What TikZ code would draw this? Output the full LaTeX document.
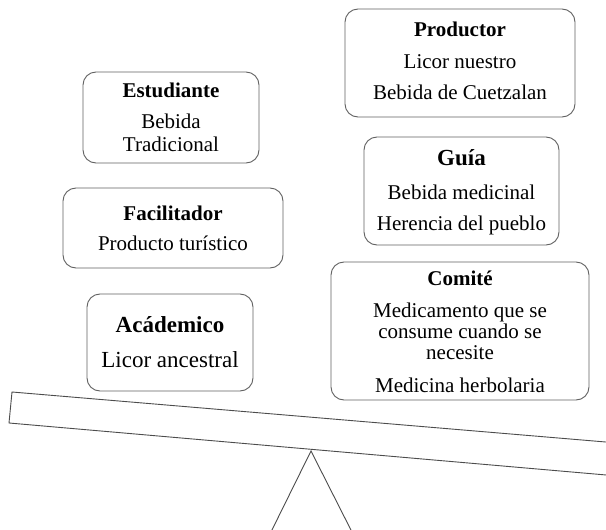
\documentclass[tikz,border=0pt]{standalone}
\usepackage{fontspec}
\setmainfont{Liberation Serif}
\begin{document}
\begin{tikzpicture}[x=1pt,y=-1pt,
  boxst/.style={draw=black!62, line width=0.9pt, rounded corners=13pt, fill=white, inner sep=0pt},
  txt/.style={anchor=base, inner sep=0pt, font=\fontsize{21}{22}\selectfont},
  txtb/.style={txt, font=\fontsize{21}{22}\selectfont\bfseries},
  bigtxt/.style={anchor=base, inner sep=0pt, font=\fontsize{23}{24}\selectfont},
  bigtxtb/.style={bigtxt, font=\fontsize{23}{24}\selectfont\bfseries},
  beamst/.style={draw=black!70, line width=0.9pt, fill=white}]
\clip (0,0) rectangle (606,530);
\fill[white] (0,0) rectangle (606,530);
% boxes
\node[boxst, minimum width=230, minimum height=108] (bprod) at (460,63) {};
\node[boxst, minimum width=195, minimum height=108] (bguia) at (461.5,191) {};
\node[boxst, minimum width=176, minimum height=91] (best) at (171,117.5) {};
\node[boxst, minimum width=220, minimum height=80] (bfac) at (173,228) {};
\node[boxst, minimum width=258, minimum height=138] (bcom) at (460,331) {};
\node[boxst, minimum width=166, minimum height=97] (baca) at (170,342.5) {};
% texts
\node[txtb] (tprod) at (460,37) {Productor};
\node[txt] (tprod1) at (460,68) {Licor nuestro};
\node[txt] (tprod2) at (460,99) {Bebida de Cuetzalan};
\node[bigtxtb] (tguia) at (461.5,165) {Guía};
\node[txt] (tguia1) at (461.5,199) {Bebida medicinal};
\node[txt] (tguia2) at (461.5,230) {Herencia del pueblo};
\node[txtb] (test) at (171,97) {Estudiante};
\node[txt] (test1) at (171,128) {Bebida};
\node[txt] (test2) at (171,151) {Tradicional};
\node[txtb] (tfac) at (173,220) {Facilitador};
\node[txt] (tfac1) at (173,250) {Producto turístico};
\node[txtb] (tcom) at (460,285) {Comité};
\node[txt] (tcom1) at (460,317) {Medicamento que se};
\node[txt] (tcom2) at (460,338) {consume cuando se};
\node[txt] (tcom3) at (460,359) {necesite};
\node[txt] (tcom4) at (460,392) {Medicina herbolaria};
\node[bigtxtb] (taca) at (170,332) {Acádemico};
\node[bigtxt] (taca1) at (170,367) {Licor ancestral};
% seesaw
\draw[beamst] (12,392) -- (9,423) -- (620,476.2) -- (620,443.2) -- cycle;
\draw[beamst] (311,451) -- (267,540) -- (356,540) -- cycle;
\end{tikzpicture}
\end{document}
